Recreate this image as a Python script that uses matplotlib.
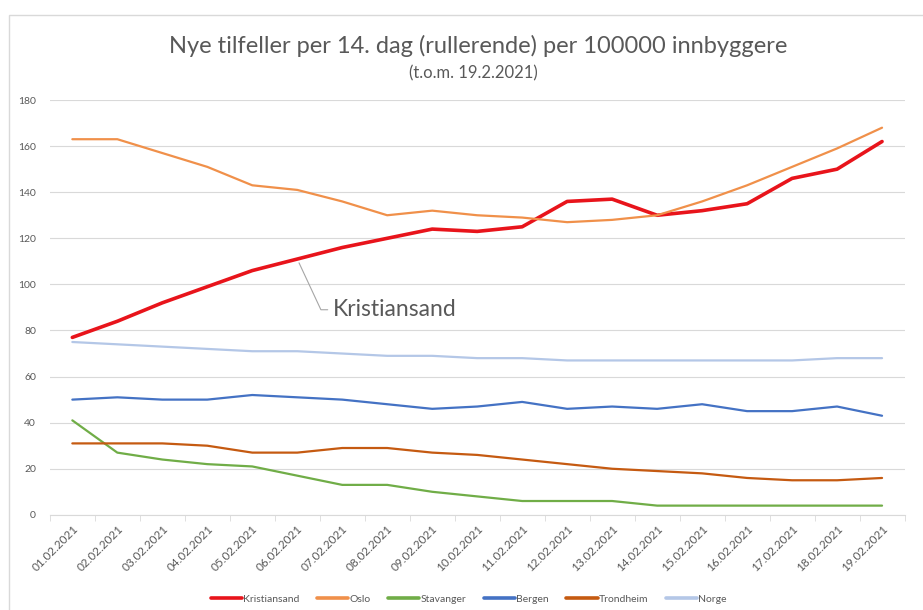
import matplotlib.pyplot as plt
from matplotlib.patches import Rectangle

plt.rcParams['font.family'] = ['Lato', 'DejaVu Sans']

# dates on the x axis
dates = ['01.02.2021', '02.02.2021', '03.02.2021', '04.02.2021', '05.02.2021',
         '06.02.2021', '07.02.2021', '08.02.2021', '09.02.2021', '10.02.2021',
         '11.02.2021', '12.02.2021', '13.02.2021', '14.02.2021', '15.02.2021',
         '16.02.2021', '17.02.2021', '18.02.2021', '19.02.2021']

kristiansand = [77, 84, 92, 99, 106, 111, 116, 120, 124, 123, 125, 136, 137, 130, 132, 135, 146, 150, 162]
oslo = [163, 163, 157, 151, 143, 141, 136, 130, 132, 130, 129, 127, 128, 130, 136, 143, 151, 159, 168]
stavanger = [41, 27, 24, 22, 21, 17, 13, 13, 10, 8, 6, 6, 6, 4, 4, 4, 4, 4, 4]
bergen = [50, 51, 50, 50, 52, 51, 50, 48, 46, 47, 49, 46, 47, 46, 48, 45, 45, 47, 43]
trondheim = [31, 31, 31, 30, 27, 27, 29, 29, 27, 26, 24, 22, 20, 19, 18, 16, 15, 15, 16]
norge = [75, 74, 73, 72, 71, 71, 70, 69, 69, 68, 68, 67, 67, 67, 67, 67, 67, 68, 68]

series = [
    ('Kristiansand', kristiansand, '#e8141b', 2.6),
    ('Oslo', oslo, '#f0904a', 1.6),
    ('Stavanger', stavanger, '#70ad47', 1.6),
    ('Bergen', bergen, '#4472c4', 1.6),
    ('Trondheim', trondheim, '#c55a11', 1.6),
    ('Norge', norge, '#b4c7e7', 1.6),
]

fig = plt.figure(figsize=(9.23, 6.1), dpi=100)
ax = fig.add_axes([0.054, 0.156, 0.926, 0.68])

# light outer frame like the Excel chart area
fig.patches.append(Rectangle((0.01, -0.01), 1.2, 0.985, transform=fig.transFigure,
                             fill=False, edgecolor='#d9d9d9', lw=1.0))

x = list(range(len(dates)))
for name, vals, col, lw in series:
    ax.plot(x, vals, color=col, lw=lw, label=name, solid_capstyle='round', zorder=3)

ax.set_xlim(-0.5, len(dates) - 0.5)
ax.set_ylim(0, 180)
ax.set_yticks(range(0, 181, 20))
ax.yaxis.grid(True, color='#d9d9d9', lw=0.8)
ax.set_axisbelow(True)
for s in ['top', 'right', 'left']:
    ax.spines[s].set_visible(False)
ax.spines['bottom'].set_color('#d9d9d9')

ax.set_xticks(x)
ax.set_xticklabels(dates, rotation=45, ha='right', rotation_mode='anchor')
ax.set_xticks([i - 0.5 for i in range(len(dates) + 1)], minor=True)
ax.tick_params(axis='x', which='major', length=0, labelsize=8.5, colors='#595959', pad=6)
ax.tick_params(axis='x', which='minor', length=4, color='#d9d9d9')
ax.tick_params(axis='y', length=0, labelsize=7.5, colors='#595959', pad=10)

fig.text(0.518, 0.925, 'Nye tilfeller per 14. dag (rullerende) per 100000 innbyggere',
         ha='center', va='center', fontsize=17, color='#595959')
fig.text(0.513, 0.88, '(t.o.m. 19.2.2021)', ha='center', va='center',
         fontsize=12, color='#595959')

ax.annotate('Kristiansand', xy=(5, kristiansand[5]), xytext=(5.8, 89),
            fontsize=16.5, color='#595959', va='center',
            arrowprops=dict(arrowstyle='-', color='#a6a6a6', lw=0.8, shrinkA=2, shrinkB=3,
                            connectionstyle='angle,angleA=0,angleB=-65,rad=0'))

leg = ax.legend(loc='upper center', bbox_to_anchor=(0.49, -0.17), ncol=6, frameon=False,
                fontsize=7.5, handlelength=3.0, handletextpad=0.1, columnspacing=1.7,
                labelcolor='#595959')
for h in leg.get_lines():
    h.set_linewidth(2.6)

fig.savefig('out.png', dpi=100)
